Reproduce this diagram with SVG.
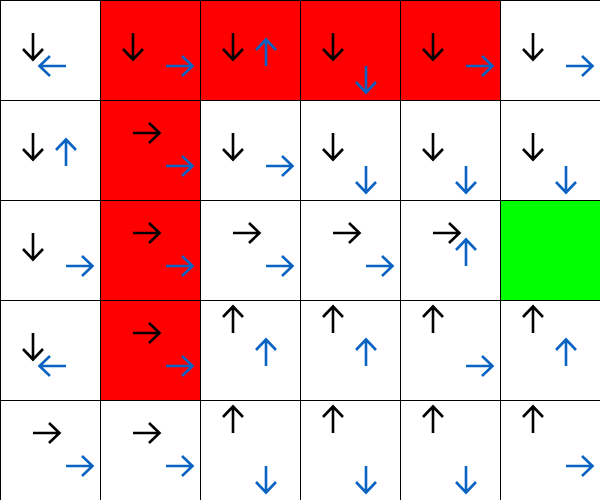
<svg xmlns="http://www.w3.org/2000/svg" xmlns:xlink="http://www.w3.org/1999/xlink" width="600" height="500" viewBox="0 0 600 500">
<style>
.cell{stroke:#000;stroke-width:1}
.w{fill:#fff}.r{fill:#ff0000}.g{fill:#00ff00}
.k{fill:none;stroke:#000;stroke-width:2.6;stroke-linejoin:miter;stroke-linecap:butt}
.b{fill:none;stroke:#0a62c2;stroke-width:2.6;stroke-linejoin:miter;stroke-linecap:butt}
</style>
<defs>
<path id="ar" d="M0,0 H26 M16,-10 L26.5,0 L16,10"/>
<path id="al" d="M0,0 H-26 M-16,-10 L-26.5,0 L-16,10"/>
<path id="ad" d="M0,0 V26 M-10,16 L0,26.5 L10,16"/>
<path id="au" d="M0,0 V-26 M-10,-16 L0,-26.5 L10,-16"/>
</defs>
<rect width="600" height="500" fill="#fff"/>
<g id="c0-0"><rect class="cell w" x="0.5" y="0.5" width="100" height="100"/><use href="#ad" class="k" x="33" y="33"/><use href="#al" class="b" x="66" y="66"/></g>
<g id="c1-0"><rect class="cell r" x="100.5" y="0.5" width="100" height="100"/><use href="#ad" class="k" x="133" y="33"/><use href="#ar" class="b" x="166" y="66"/></g>
<g id="c2-0"><rect class="cell r" x="200.5" y="0.5" width="100" height="100"/><use href="#ad" class="k" x="233" y="33"/><use href="#au" class="b" x="266" y="66"/></g>
<g id="c3-0"><rect class="cell r" x="300.5" y="0.5" width="100" height="100"/><use href="#ad" class="k" x="333" y="33"/><use href="#ad" class="b" x="366" y="66"/></g>
<g id="c4-0"><rect class="cell r" x="400.5" y="0.5" width="100" height="100"/><use href="#ad" class="k" x="433" y="33"/><use href="#ar" class="b" x="466" y="66"/></g>
<g id="c5-0"><rect class="cell w" x="500.5" y="0.5" width="100" height="100"/><use href="#ad" class="k" x="533" y="33"/><use href="#ar" class="b" x="566" y="66"/></g>

<g id="c0-1"><rect class="cell w" x="0.5" y="100.5" width="100" height="100"/><use href="#ad" class="k" x="33" y="133"/><use href="#au" class="b" x="66" y="166"/></g>
<g id="c1-1"><rect class="cell r" x="100.5" y="100.5" width="100" height="100"/><use href="#ar" class="k" x="133" y="133"/><use href="#ar" class="b" x="166" y="166"/></g>
<g id="c2-1"><rect class="cell w" x="200.5" y="100.5" width="100" height="100"/><use href="#ad" class="k" x="233" y="133"/><use href="#ar" class="b" x="266" y="166"/></g>
<g id="c3-1"><rect class="cell w" x="300.5" y="100.5" width="100" height="100"/><use href="#ad" class="k" x="333" y="133"/><use href="#ad" class="b" x="366" y="166"/></g>
<g id="c4-1"><rect class="cell w" x="400.5" y="100.5" width="100" height="100"/><use href="#ad" class="k" x="433" y="133"/><use href="#ad" class="b" x="466" y="166"/></g>
<g id="c5-1"><rect class="cell w" x="500.5" y="100.5" width="100" height="100"/><use href="#ad" class="k" x="533" y="133"/><use href="#ad" class="b" x="566" y="166"/></g>

<g id="c0-2"><rect class="cell w" x="0.5" y="200.5" width="100" height="100"/><use href="#ad" class="k" x="33" y="233"/><use href="#ar" class="b" x="66" y="266"/></g>
<g id="c1-2"><rect class="cell r" x="100.5" y="200.5" width="100" height="100"/><use href="#ar" class="k" x="133" y="233"/><use href="#ar" class="b" x="166" y="266"/></g>
<g id="c2-2"><rect class="cell w" x="200.5" y="200.5" width="100" height="100"/><use href="#ar" class="k" x="233" y="233"/><use href="#ar" class="b" x="266" y="266"/></g>
<g id="c3-2"><rect class="cell w" x="300.5" y="200.5" width="100" height="100"/><use href="#ar" class="k" x="333" y="233"/><use href="#ar" class="b" x="366" y="266"/></g>
<g id="c4-2"><rect class="cell w" x="400.5" y="200.5" width="100" height="100"/><use href="#ar" class="k" x="433" y="233"/><use href="#au" class="b" x="466" y="266"/></g>
<g id="c5-2"><rect class="cell g" x="500.5" y="200.5" width="100" height="100"/></g>

<g id="c0-3"><rect class="cell w" x="0.5" y="300.5" width="100" height="100"/><use href="#ad" class="k" x="33" y="333"/><use href="#al" class="b" x="66" y="366"/></g>
<g id="c1-3"><rect class="cell r" x="100.5" y="300.5" width="100" height="100"/><use href="#ar" class="k" x="133" y="333"/><use href="#ar" class="b" x="166" y="366"/></g>
<g id="c2-3"><rect class="cell w" x="200.5" y="300.5" width="100" height="100"/><use href="#au" class="k" x="233" y="333"/><use href="#au" class="b" x="266" y="366"/></g>
<g id="c3-3"><rect class="cell w" x="300.5" y="300.5" width="100" height="100"/><use href="#au" class="k" x="333" y="333"/><use href="#au" class="b" x="366" y="366"/></g>
<g id="c4-3"><rect class="cell w" x="400.5" y="300.5" width="100" height="100"/><use href="#au" class="k" x="433" y="333"/><use href="#ar" class="b" x="466" y="366"/></g>
<g id="c5-3"><rect class="cell w" x="500.5" y="300.5" width="100" height="100"/><use href="#au" class="k" x="533" y="333"/><use href="#au" class="b" x="566" y="366"/></g>

<g id="c0-4"><rect class="cell w" x="0.5" y="400.5" width="100" height="100"/><use href="#ar" class="k" x="33" y="433"/><use href="#ar" class="b" x="66" y="466"/></g>
<g id="c1-4"><rect class="cell w" x="100.5" y="400.5" width="100" height="100"/><use href="#ar" class="k" x="133" y="433"/><use href="#ar" class="b" x="166" y="466"/></g>
<g id="c2-4"><rect class="cell w" x="200.5" y="400.5" width="100" height="100"/><use href="#au" class="k" x="233" y="433"/><use href="#ad" class="b" x="266" y="466"/></g>
<g id="c3-4"><rect class="cell w" x="300.5" y="400.5" width="100" height="100"/><use href="#au" class="k" x="333" y="433"/><use href="#ad" class="b" x="366" y="466"/></g>
<g id="c4-4"><rect class="cell w" x="400.5" y="400.5" width="100" height="100"/><use href="#au" class="k" x="433" y="433"/><use href="#ad" class="b" x="466" y="466"/></g>
<g id="c5-4"><rect class="cell w" x="500.5" y="400.5" width="100" height="100"/><use href="#au" class="k" x="533" y="433"/><use href="#ar" class="b" x="566" y="466"/></g>
<g id="connectors"/>
</svg>
